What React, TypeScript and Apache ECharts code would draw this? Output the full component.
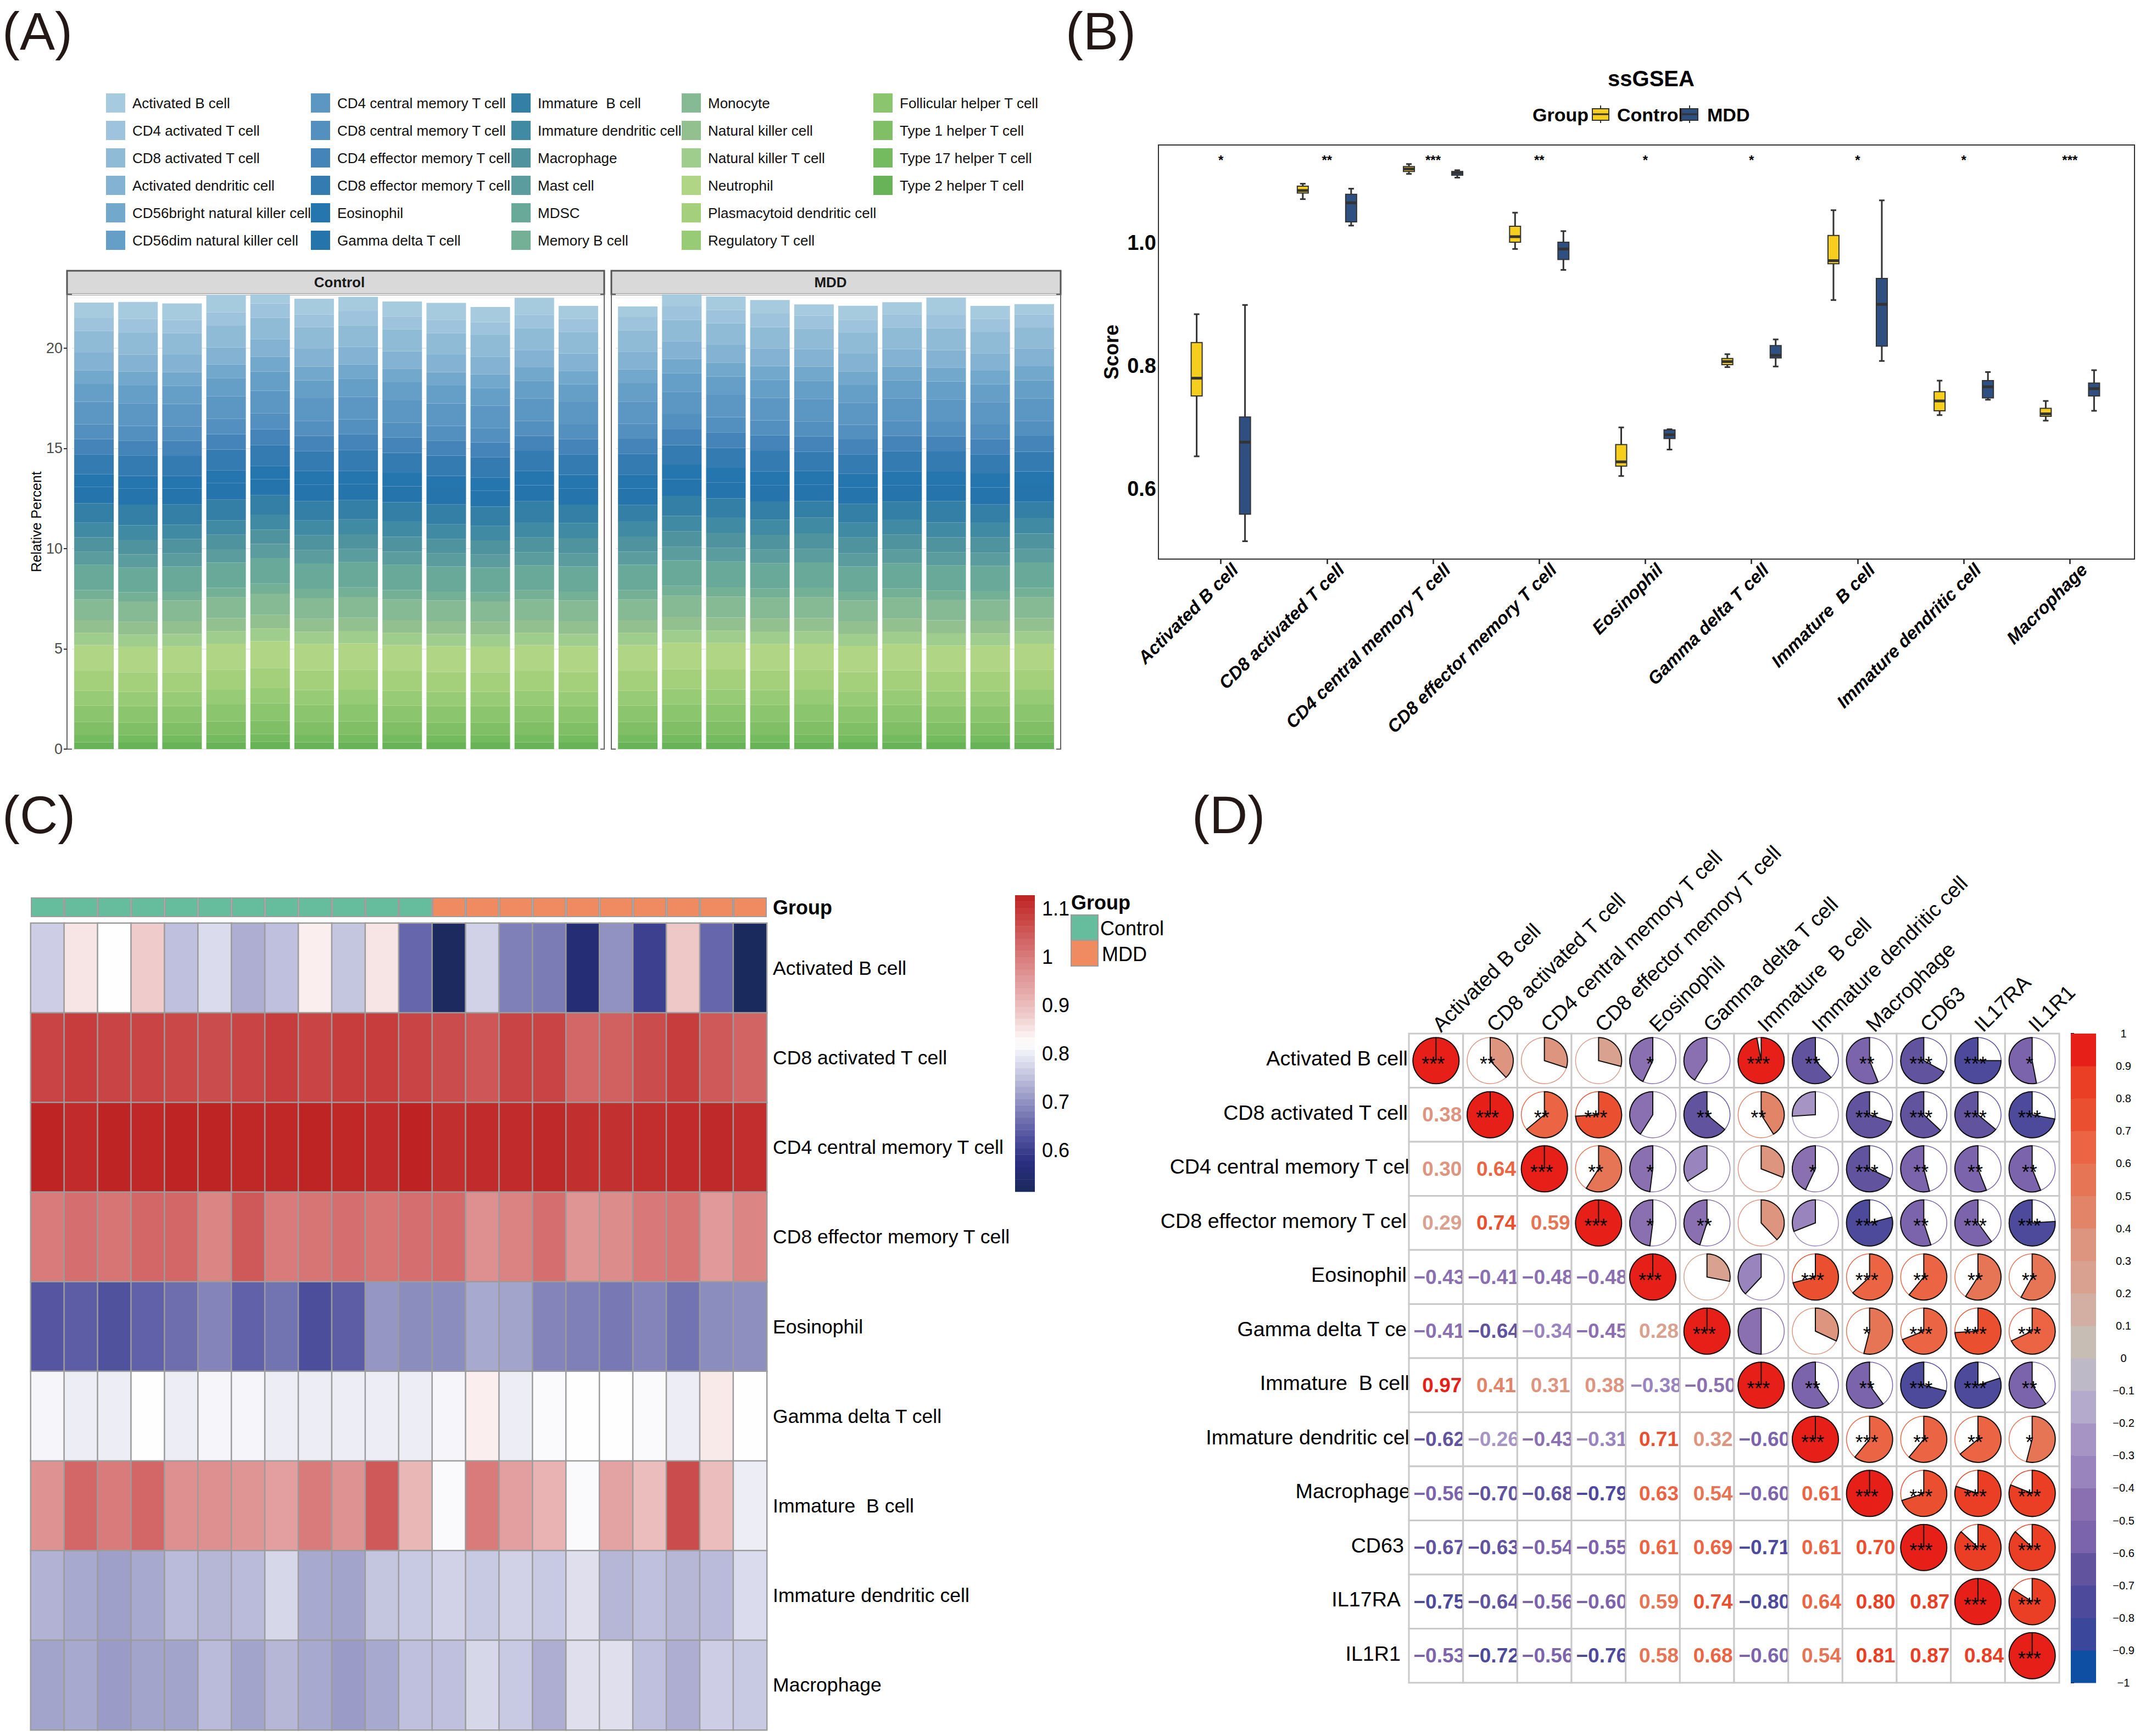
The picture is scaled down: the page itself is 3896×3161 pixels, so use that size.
import React, { useEffect, useRef } from "react";
import * as echarts from "echarts";

const FONT = "Liberation Sans";

// ---------- Panel A ----------
const cellTypes = ["Activated B cell","CD4 activated T cell","CD8 activated T cell","Activated dendritic cell","CD56bright natural killer cell","CD56dim natural killer cell","CD4 central memory T cell","CD8 central memory T cell","CD4 effector memory T cell","CD8 effector memory T cell","Eosinophil","Gamma delta T cell","Immature  B cell","Immature dendritic cell","Macrophage","Mast cell","MDSC","Memory B cell","Monocyte","Natural killer cell","Natural killer T cell","Neutrophil","Plasmacytoid dendritic cell","Regulatory T cell","Follicular helper T cell","Type 1 helper T cell","Type 17 helper T cell","Type 2 helper T cell"];
const cellColors = ["#A6CBDF","#9DC4DC","#8FBBD7","#84B2D2","#73A8CD","#659FC8","#5C97C3","#5490BF","#4484B8","#347BB2","#2575AE","#2574AC","#337FA6","#418AA3","#4F939F","#5B9C9F","#68A99A","#74B096","#85BA94","#92C18F","#9FCD8D","#B0D685","#A4D07C","#97CB75","#8BC56E","#80BF65","#74BA5E","#68B357"];
const samples = ["C1","C2","C3","C4","C5","C6","C7","C8","C9","C10","C11","C12","M1","M2","M3","M4","M5","M6","M7","M8","M9","M10"];
const activatedB = [.765,.85,.82,.88,.75,.78,.73,.75,.84,.755,.85,.65,.52,.77,.68,.675,.555,.70,.60,.885,.65,.515];
const cd8Activated = [1.08,1.09,1.08,1.08,1.075,1.07,1.08,1.09,1.08,1.09,1.09,1.08,1.07,1.055,1.08,1.08,1.03,1.04,1.07,1.09,1.05,1.035];
const cd4Central = [1.125,1.115,1.125,1.12,1.125,1.125,1.12,1.12,1.125,1.12,1.115,1.128,1.11,1.115,1.115,1.118,1.11,1.108,1.112,1.115,1.118,1.112];
const cd8Effector = [1.0,1.02,1.01,1.03,1.03,.985,1.05,1.0,1.01,1.02,1.01,1.02,1.025,.97,.99,1.02,.96,.975,1.005,1.01,.955,.985];
const eosinophil = [.63,.64,.625,.645,.66,.685,.645,.665,.62,.64,.705,.695,.695,.725,.72,.685,.68,.672,.685,.665,.695,.697];
const gammaDelta = [.81,.80,.80,.82,.80,.81,.81,.80,.80,.80,.80,.80,.81,.84,.80,.815,.82,.82,.815,.80,.845,.82];
const immatureB = [.965,1.03,1.0,1.03,.97,.97,.96,.945,1.0,.965,1.05,.91,.815,1.0,.945,.915,.815,.94,.90,1.07,.90,.80];
const immatureDC = [.735,.725,.715,.725,.745,.74,.745,.775,.725,.72,.755,.76,.77,.76,.77,.76,.785,.74,.75,.74,.745,.78];
const macrophage = [.72,.725,.71,.72,.72,.745,.72,.74,.725,.71,.725,.75,.75,.775,.76,.73,.785,.785,.75,.73,.765,.76];
const cd4Activated = [.65,.69,.66,.66,.71,.64,.69,.64,.67,.64,.66,.64,.66,.68,.66,.67,.65,.65,.66,.65,.66,.67];
const activatedDC = [.88,.85,.87,.86,.87,.90,.88,.87,.86,.87,.87,.87,.89,.89,.88,.87,.87,.88,.88,.87,.87,.88];
const cd56Bright = [.68,.69,.68,.67,.74,.68,.70,.68,.67,.68,.67,.67,.69,.71,.70,.69,.70,.68,.69,.69,.68,.70];
const cd56Dim = [.89,.90,.90,.92,.96,.89,.91,.90,.89,.88,.89,.88,.91,.92,.91,.90,.92,.88,.90,.90,.89,.91];
const cd8Central = [.74,.73,.72,.76,.79,.75,.75,.74,.73,.72,.74,.73,.75,.77,.76,.75,.75,.72,.75,.73,.73,.76];
const cd4Effector = [.76,.74,.74,.77,.80,.77,.78,.76,.75,.74,.75,.75,.76,.78,.78,.77,.77,.75,.77,.75,.75,.78];
const mast = [.66,.65,.66,.67,.70,.66,.67,.67,.65,.65,.66,.66,.66,.68,.68,.67,.67,.66,.67,.66,.66,.68];
const mdsc = [1.25,1.24,1.25,1.26,1.28,1.26,1.26,1.25,1.25,1.24,1.25,1.25,1.25,1.27,1.27,1.26,1.26,1.25,1.26,1.26,1.25,1.27];
const memoryB = [.46,.45,.45,.47,.50,.47,.47,.46,.45,.44,.45,.45,.47,.49,.48,.47,.48,.45,.47,.46,.45,.47];
const monocyte = [1.03,1.02,1.03,1.04,1.06,1.03,1.04,1.03,1.03,1.02,1.03,1.03,1.03,1.05,1.04,1.04,1.04,1.03,1.04,1.03,1.03,1.04];
const nkCell = [.64,.63,.64,.65,.67,.65,.66,.64,.64,.63,.64,.64,.64,.66,.65,.65,.65,.63,.65,.64,.64,.65];
const nktCell = [.61,.60,.61,.62,.64,.61,.62,.61,.60,.60,.61,.60,.61,.63,.62,.62,.62,.60,.62,.61,.60,.62];
const neutrophil = [1.30,1.29,1.30,1.31,1.33,1.31,1.32,1.30,1.30,1.29,1.30,1.30,1.30,1.32,1.32,1.31,1.31,1.30,1.31,1.30,1.30,1.31];
const plasmacytoid = [.98,.97,.97,.99,1.01,.99,.99,.98,.98,.97,.98,.98,.98,1.0,1.0,.99,.99,.98,.99,.98,.98,.99];
const regulatory = [.73,.72,.72,.74,.76,.74,.74,.73,.72,.72,.73,.72,.73,.75,.74,.74,.74,.73,.74,.73,.73,.74];
const follicular = [.83,.82,.82,.84,.86,.84,.84,.83,.82,.82,.83,.82,.83,.85,.85,.84,.84,.82,.84,.83,.83,.84];
const type1 = [.64,.63,.63,.65,.67,.65,.65,.64,.63,.63,.64,.63,.64,.66,.65,.65,.65,.63,.65,.64,.64,.65];
const type17 = [.37,.36,.36,.38,.39,.37,.38,.37,.36,.36,.37,.36,.37,.38,.38,.37,.38,.36,.37,.36,.36,.38];
const type2 = [.34,.33,.33,.35,.36,.34,.35,.34,.33,.33,.34,.33,.34,.35,.35,.34,.35,.33,.34,.33,.33,.35];
const abundance = [activatedB,cd4Activated,cd8Activated,activatedDC,cd56Bright,cd56Dim,cd4Central,cd8Central,cd4Effector,cd8Effector,eosinophil,gammaDelta,immatureB,immatureDC,macrophage,mast,mdsc,memoryB,monocyte,nkCell,nktCell,neutrophil,plasmacytoid,regulatory,follicular,type1,type17,type2];
const legendColumns = [
  { left: 193, items: cellTypes.slice(0, 6) },
  { left: 566, items: cellTypes.slice(6, 12) },
  { left: 931, items: cellTypes.slice(12, 18) },
  { left: 1241, items: cellTypes.slice(18, 24) },
  { left: 1590, items: cellTypes.slice(24, 28) },
];

// ---------- Panel B ----------
const boxCategories = ["Activated B cell","CD8 activated T cell","CD4 central memory T cell","CD8 effector memory T cell","Eosinophil","Gamma delta T cell","Immature  B cell","Immature dendritic cell","Macrophage"];
const boxControl = [[.653,.751,.780,.838,.884],[1.071,1.081,1.085,1.092,1.096],[1.112,1.116,1.120,1.124,1.128],[.990,1.001,1.010,1.027,1.049],[.621,.637,.644,.672,.700],[.798,.802,.807,.812,.819],[.907,.966,.971,1.012,1.053],[.720,.727,.743,.758,.776],[.711,.718,.722,.731,.743]];
const boxMDD = [[.515,.559,.676,.717,.899],[1.028,1.034,1.065,1.079,1.088],[1.106,1.110,1.114,1.116,1.118],[.956,.973,.990,1.001,1.019],[.664,.682,.688,.696,.697],[.799,.813,.817,.833,.843],[.808,.832,.900,.942,1.069],[.745,.748,.766,.776,.790],[.727,.751,.763,.772,.793]];
const boxSignif = ["*","**","***","**","*","*","*","*","***"];

// ---------- Panel C ----------
const heatRows = ["Activated B cell","CD8 activated T cell","CD4 central memory T cell","CD8 effector memory T cell","Eosinophil","Gamma delta T cell","Immature  B cell","Immature dendritic cell","Macrophage"];
const heatValues = [activatedB,cd8Activated,cd4Central,cd8Effector,eosinophil,gammaDelta,immatureB,immatureDC,macrophage];
const heatStops = ["#1B2A5C","#2A2E80","#5A5AA5","#8F90C0","#C8C9E2","#FFFFFF","#EFC9C9","#E3A0A0","#D87878","#CC4E4E","#BE2222"];
const heatTicks = ["0.6","0.7","0.8","0.9","1","1.1"];

// ---------- Panel D ----------
const corrNames = ["Activated B cell","CD8 activated T cell","CD4 central memory T cell","CD8 effector memory T cell","Eosinophil","Gamma delta T cell","Immature  B cell","Immature dendritic cell","Macrophage","CD63","IL17RA","IL1R1"];
const corrRowLabels = ["Activated B cell","CD8 activated T cell","CD4 central memory T cel","CD8 effector memory T cel","Eosinophil","Gamma delta T ce","Immature  B cell","Immature dendritic cel","Macrophage","CD63","IL17RA","IL1R1"];
const corrRowPad = [5,5,2,7,7,7,2,2,0,12,18,18];
const corrLower = [
  [],
  [.38],
  [.30,.64],
  [.29,.74,.59],
  [-.43,-.41,-.48,-.48],
  [-.41,-.64,-.34,-.45,.28],
  [.97,.41,.31,.38,-.38,-.50],
  [-.62,-.26,-.43,-.31,.71,.32,-.60],
  [-.56,-.70,-.68,-.79,.63,.54,-.60,.61],
  [-.67,-.63,-.54,-.55,.61,.69,-.71,.61,.70],
  [-.75,-.64,-.56,-.60,.59,.74,-.80,.64,.80,.87],
  [-.53,-.72,-.56,-.76,.58,.68,-.60,.54,.81,.87,.84],
];
const corrStars = [
  ["***","**","","","*","","***","**","**","***","***","*"],
  ["","***","**","***","","**","**","","***","***","***","***"],
  ["","","***","**","*","","","*","***","**","**","**"],
  ["","","","***","*","**","","","***","**","***","***"],
  ["","","","","***","","","***","***","**","**","**"],
  ["","","","","","***","","","*","***","***","***"],
  ["","","","","","","***","**","**","***","***","**"],
  ["","","","","","","","***","***","**","**","*"],
  ["","","","","","","","","***","***","***","***"],
  ["","","","","","","","","","***","***","***"],
  ["","","","","","","","","","","***","***"],
  ["","","","","","","","","","","","***"],
];
const corrColors = ["#0F4FA3","#3A479B","#4D4A9C","#62539F","#7C64AC","#8A70B0","#9A84BE","#A594C4","#B4AACB","#BDB9C6","#C7BDB5","#D3AEA2","#D9A290","#DE957F","#E28468","#E67555","#EB6544","#EA5030","#EA3F24","#E71F19"];

const corrColor = (r: number) => corrColors[Math.max(0, Math.min(19, Math.floor((r + 1) / 0.1 + 1e-6)))];
const signed = (r: number) => (r < 0 ? "\u2212" : "") + Math.abs(r).toFixed(2);

const gText = (text: string, x: number, y: number, o: any = {}) => ({
  type: "text",
  x,
  y,
  rotation: o.rotation || 0,
  silent: true,
  style: {
    text,
    fill: o.fill || "#000",
    fontFamily: FONT,
    fontSize: o.size || 36,
    fontWeight: o.weight || "normal",
    align: o.align || "left",
    textAlign: o.align || "left",
    verticalAlign: "middle",
    textVerticalAlign: "middle",
  },
});
const gRect = (x: number, y: number, w: number, h: number, fill: string, stroke?: string, lw = 2) => ({
  type: "rect",
  silent: true,
  shape: { x, y, width: w, height: h },
  style: { fill, stroke: stroke || "none", lineWidth: lw },
});

function buildOption() {
  const series: any[] = [];
  // A: stacked bars, first legend entry on top
  [[0, 12, 0], [1, 10, 12]].forEach(([axis, n, from]) => {
    for (let i = cellTypes.length - 1; i >= 0; i--) {
      series.push({
        type: "bar",
        name: cellTypes[i],
        stack: "p" + axis,
        xAxisIndex: axis,
        yAxisIndex: axis,
        barWidth: 72,
        itemStyle: { color: cellColors[i] },
        data: abundance[i].slice(from, from + n),
      });
    }
  });

  // B: box plots
  const boxSeries = (name: string, rows: number[][], fill: string, off: number) => ({
    type: "custom",
    name,
    xAxisIndex: 2,
    yAxisIndex: 2,
    clip: false,
    encode: { x: 0, y: [1, 2, 3, 4, 5] },
    data: rows.map((r, i) => [i, ...r]),
    renderItem: (p: any, api: any) => {
      const idx = p.dataIndex;
      const pt = (k: number) => api.coord([idx, api.value(k)]);
      const x = pt(1)[0] + off;
      const [yLo, yQ1, yMed, yQ3, yHi] = [pt(1)[1], pt(2)[1], pt(3)[1], pt(4)[1], pt(5)[1]];
      const ln = { stroke: "#333", lineWidth: 3 };
      return {
        type: "group",
        children: [
          { type: "line", shape: { x1: x, y1: yHi, x2: x, y2: yLo }, style: ln },
          { type: "line", shape: { x1: x - 5, y1: yHi, x2: x + 5, y2: yHi }, style: ln },
          { type: "line", shape: { x1: x - 5, y1: yLo, x2: x + 5, y2: yLo }, style: ln },
          { type: "rect", shape: { x: x - 10, y: yQ3, width: 20, height: yQ1 - yQ3 }, style: { fill, stroke: "#333", lineWidth: 2 } },
          { type: "line", shape: { x1: x - 10, y1: yMed, x2: x + 10, y2: yMed }, style: { stroke: "#333", lineWidth: 5 } },
        ],
      };
    },
  });
  series.push(boxSeries("Control", boxControl, "#F5CE1E", -44));
  series.push(boxSeries("MDD", boxMDD, "#2F4F80", 44));
  series.push({
    type: "custom",
    name: "Significance",
    xAxisIndex: 2,
    yAxisIndex: 2,
    encode: { x: 0, y: 1 },
    data: boxSignif.map((_, i) => [i, 1.139]),
    renderItem: (p: any, api: any) => {
      const c = api.coord([p.dataIndex, api.value(1)]);
      return {
        type: "text",
        style: { text: boxSignif[p.dataIndex], x: c[0], y: c[1] + 5, fill: "#000", fontFamily: FONT, fontSize: 24, fontWeight: "bold", align: "center", verticalAlign: "middle", textAlign: "center", textVerticalAlign: "middle" },
      };
    },
  });
  series.push({
    type: "custom",
    name: "Category labels",
    xAxisIndex: 2,
    yAxisIndex: 2,
    clip: false,
    encode: { x: 0, y: 1 },
    data: boxCategories.map((_, i) => [i, 0.486]),
    renderItem: (p: any, api: any) => {
      const c = api.coord([p.dataIndex, api.value(1)]);
      return {
        type: "text",
        x: c[0] + 26,
        y: c[1] + 14,
        rotation: Math.PI / 4,
        style: { text: boxCategories[p.dataIndex], x: 0, y: 0, fill: "#000", fontFamily: FONT, fontSize: 32.5, fontWeight: "bold", fontStyle: "italic", align: "right", verticalAlign: "middle", textAlign: "right", textVerticalAlign: "middle" },
      };
    },
  });

  // C: heat map
  const heatIndex = series.length;
  const heatData: number[][] = [];
  heatValues.forEach((row, r) => row.forEach((v, c) => heatData.push([c, r, v])));
  series.push({
    type: "heatmap",
    name: "Score",
    xAxisIndex: 3,
    yAxisIndex: 3,
    data: heatData,
    itemStyle: { borderColor: "#9c9c9c", borderWidth: 2.5 },
    progressive: 0,
  });
  series.push({
    type: "bar",
    name: "Group",
    xAxisIndex: 4,
    yAxisIndex: 4,
    barWidth: "100%",
    data: samples.map((_, i) => ({
      value: 1,
      itemStyle: { color: i < 12 ? "#66BD9E" : "#F08A60", borderColor: "#9c9c9c", borderWidth: 2 },
    })),
  });
  const bandsC: number[][] = [];
  const nBands = 48;
  for (let i = 0; i < nBands; i++) bandsC.push([0.514 + (i * 0.614) / nBands, 0.514 + ((i + 1) * 0.614) / nBands]);
  const bandSeries = (axis: number, bands: number[][], colorOf: (i: number) => string) => ({
    type: "custom",
    name: "scale" + axis,
    xAxisIndex: axis,
    yAxisIndex: axis,
    clip: false,
    encode: { y: [0, 1] },
    data: bands,
    renderItem: (p: any, api: any) => {
      const a = api.coord([0, api.value(0)]);
      const b = api.coord([1, api.value(1)]);
      return {
        type: "rect",
        shape: { x: a[0], y: b[1], width: b[0] - a[0], height: a[1] - b[1] + 0.5 },
        style: { fill: colorOf(p.dataIndex) },
      };
    },
  });
  series.push(bandSeries(5, bandsC, (i) => echarts.color.lerp((i + 0.5) / nBands, heatStops) as string));

  // D: correlogram
  const corrCells: number[][] = [];
  corrNames.forEach((_, r) => corrNames.forEach((__, c) => {
    const v = r === c ? 1 : r > c ? corrLower[r][c] : corrLower[c][r];
    corrCells.push([c, r, v]);
  }));
  series.push({
    type: "custom",
    name: "Correlation",
    xAxisIndex: 6,
    yAxisIndex: 6,
    clip: false,
    encode: { x: 0, y: 1 },
    data: corrCells,
    renderItem: (p: any, api: any) => {
      const col = api.value(0), row = api.value(1), v = api.value(2);
      const [cx, cy] = api.coord([col, row]);
      const [w, h] = api.size([1, 1]);
      const color = corrColor(v);
      const kids: any[] = [
        { type: "rect", shape: { x: cx - w / 2, y: cy - h / 2, width: w, height: h }, style: { fill: "#fff", stroke: "#c9c9c9", lineWidth: 3 } },
      ];
      if (row > col) {
        kids.push({
          type: "text",
          style: { text: signed(v), x: cx + (v < 0 ? 6 : 11), y: cy, fill: color, fontFamily: FONT, fontSize: 37, fontWeight: "bold", align: "center", verticalAlign: "middle", textAlign: "center", textVerticalAlign: "middle" },
        });
      } else {
        const R = 42;
        const start = -Math.PI / 2;
        kids.push({ type: "circle", shape: { cx, cy, r: R }, style: { fill: "#fff", stroke: color, lineWidth: 1.5 } });
        kids.push({
          type: "sector",
          shape: { cx, cy, r: R, r0: 0, startAngle: start, endAngle: start + (v >= 0 ? 1 : -1) * 2 * Math.PI * Math.abs(v) * (v === 1 ? 0.9999 : 1), clockwise: v >= 0 },
          style: { fill: color, stroke: "#111", lineWidth: 2 },
        });
        const stars = corrStars[row][col];
        if (stars) {
          kids.push({
            type: "text",
            style: { text: stars, x: cx - 5, y: cy + 6, fill: "#000", fontFamily: FONT, fontSize: 36, align: "center", verticalAlign: "middle", textAlign: "center", textVerticalAlign: "middle" },
          });
        }
      }
      return { type: "group", children: kids };
    },
  });
  series.push(bandSeries(7, corrColors.map((_, i) => [-1 + i * 0.1, -0.9 + i * 0.1]), (i) => corrColors[i]));

  const hiddenCat = (gridIndex: number, data: string[]) => ({ type: "category", gridIndex, data, show: false });
  const hiddenVal = (gridIndex: number, min: number, max: number) => ({ type: "value", gridIndex, min, max, show: false });
  const aSplit = { show: true, lineStyle: { color: "#ebebeb", width: 2 } };

  return {
    animation: false,
    backgroundColor: "#fff",
    textStyle: { fontFamily: FONT },
    grid: [
      { left: 131, top: 536, width: 962, height: 828 },
      { left: 1121, top: 536, width: 802, height: 828 },
      { left: 2126, top: 264, width: 1739, height: 754 },
      { left: 56, top: 1681, width: 1340, height: 1469 },
      { left: 56, top: 1634, width: 1340, height: 36 },
      { left: 1848, top: 1630, width: 36, height: 552 },
      { left: 2565, top: 1882, width: 1184, height: 1182 },
      { left: 3770, top: 1882, width: 46, height: 1182 },
    ],
    xAxis: [
      hiddenCat(0, samples.slice(0, 12)),
      hiddenCat(1, samples.slice(12)),
      {
        type: "category",
        gridIndex: 2,
        data: boxCategories,
        axisLine: { show: false },
        axisTick: { show: true, alignWithLabel: true, length: 9, lineStyle: { color: "#222", width: 2.5 } },
        axisLabel: { show: false },
      },
      hiddenCat(3, samples),
      hiddenCat(4, samples),
      hiddenVal(5, 0, 1),
      {
        type: "category",
        gridIndex: 6,
        position: "top",
        data: corrNames,
        axisLine: { show: false },
        axisTick: { show: false },
        axisLabel: { rotate: -45, interval: 0, margin: 10, fontSize: 38, color: "#000", fontFamily: FONT },
      },
      hiddenVal(7, 0, 1),
    ],
    yAxis: [
      {
        type: "value",
        gridIndex: 0,
        min: 0,
        max: 22.68,
        interval: 5,
        offset: 9,
        name: "Relative Percent",
        nameLocation: "middle",
        nameGap: 44,
        nameTextStyle: { fontSize: 25, color: "#000", fontFamily: FONT },
        axisLine: { show: false },
        axisTick: { show: true, length: 6, lineStyle: { color: "#333", width: 2 } },
        axisLabel: { fontSize: 27, color: "#4d4d4d", margin: 8, showMaxLabel: false, fontFamily: FONT },
        splitLine: aSplit,
        minorTick: { show: false, splitNumber: 2 },
        minorSplitLine: { show: true, lineStyle: { color: "#f2f2f2", width: 1 } },
      },
      {
        type: "value",
        gridIndex: 1,
        min: 0,
        max: 22.68,
        interval: 5,
        axisLine: { show: false },
        axisTick: { show: false },
        axisLabel: { show: false },
        splitLine: aSplit,
        minorTick: { show: false, splitNumber: 2 },
        minorSplitLine: { show: true, lineStyle: { color: "#f2f2f2", width: 1 } },
      },
      {
        type: "value",
        gridIndex: 2,
        min: 0.486,
        max: 1.159,
        name: "Score",
        nameLocation: "middle",
        nameGap: 85,
        nameTextStyle: { fontSize: 36, fontWeight: "bold", color: "#000", fontFamily: FONT },
        axisLine: { show: false },
        axisTick: { show: false },
        splitLine: { show: false },
        axisLabel: {
          customValues: [0.6, 0.8, 1.0],
          formatter: (v: number) => v.toFixed(1),
          fontSize: 38,
          fontWeight: "bold",
          color: "#000",
          margin: 21,
          fontFamily: FONT,
        },
      },
      {
        type: "category",
        gridIndex: 3,
        position: "right",
        inverse: true,
        data: heatRows,
        axisLine: { show: false },
        axisTick: { show: false },
        axisLabel: { fontSize: 35.6, color: "#000", margin: 11, interval: 0, fontFamily: FONT },
      },
      {
        type: "value",
        gridIndex: 4,
        position: "right",
        min: 0,
        max: 1,
        interval: 1,
        axisLine: { show: false },
        axisTick: { show: false },
        splitLine: { show: false },
        axisLabel: { show: false },
      },
      {
        type: "value",
        gridIndex: 5,
        position: "right",
        min: 0.5,
        max: 1.128,
        interval: 0.1,
        axisLine: { show: false },
        axisTick: { show: false },
        splitLine: { show: false },
        axisLabel: {
          showMinLabel: false,
          showMaxLabel: false,
          margin: 13,
          fontSize: 36,
          color: "#000",
          fontFamily: FONT,
          formatter: (v: number) => {
            const s = String(Math.round(v * 10) / 10);
            return heatTicks.includes(s) ? s : "";
          },
        },
      },
      {
        type: "category",
        gridIndex: 6,
        inverse: true,
        data: corrRowLabels.map((n, i) => `{p${i}|${n}}`),
        axisLine: { show: false },
        axisTick: { show: false },
        axisLabel: {
          margin: -3,
          interval: 0,
          fontSize: 37.7,
          color: "#000",
          fontFamily: FONT,
          rich: Object.fromEntries(corrRowPad.map((pad, i) => ["p" + i, { fontSize: 37.7, color: "#000", fontFamily: FONT, padding: [0, pad, 8, 0] }])),
        },
      },
      {
        type: "value",
        gridIndex: 7,
        position: "right",
        min: -1,
        max: 1,
        interval: 0.1,
        axisLine: { show: false },
        splitLine: { show: false },
        axisTick: { show: true, length: 6, lineStyle: { color: "#000", width: 2 } },
        axisLabel: {
          align: "center",
          margin: 50,
          fontSize: 20,
          color: "#000",
          fontFamily: FONT,
          formatter: (v: number) => {
            if (Math.abs(v) < 1e-6) return "0";
            if (Math.abs(Math.abs(v) - 1) < 1e-6) return v < 0 ? "\u22121" : "1";
            return (v < 0 ? "\u2212" : "") + Math.abs(v).toFixed(1);
          },
        },
      },
    ],
    legend: legendColumns.map((col) => ({
      orient: "vertical",
      left: col.left,
      top: 170,
      padding: 0,
      itemWidth: 35,
      itemHeight: 35,
      itemGap: 15,
      icon: "rect",
      selectedMode: false,
      data: col.items,
      textStyle: { fontSize: 26, color: "#111", fontFamily: FONT, padding: [0, 0, 0, 8] },
    })),
    visualMap: [
      {
        type: "continuous",
        show: false,
        seriesIndex: heatIndex,
        dimension: 2,
        min: 0.514,
        max: 1.128,
        inRange: { color: heatStops },
      },
    ],
    graphic: {
      elements: [
        gText("(A)", 4, 56, { size: 96, fill: "#231815" }),
        gText("(B)", 1940, 56, { size: 96, fill: "#231815" }),
        gText("(C)", 4, 1483, { size: 96, fill: "#231815" }),
        gText("(D)", 2170, 1483, { size: 96, fill: "#231815" }),
        // A: facet strips and frames
        gRect(122, 493, 978, 43, "#D9D9D9", "#555", 3),
        gRect(1113, 493, 818, 43, "#D9D9D9", "#555", 3),
        gText("Control", 618, 514, { size: 26, weight: "bold", align: "center", fill: "#1a1a1a" }),
        gText("MDD", 1512, 514, { size: 26, weight: "bold", align: "center", fill: "#1a1a1a" }),
        gRect(122, 536, 978, 828, "none", "#666", 2),
        gRect(1113, 536, 818, 828, "none", "#666", 2),
        // B: title, legend, frame
        gText("ssGSEA", 3006, 143, { size: 40, weight: "bold", align: "center" }),
        gText("Group", 2790, 209, { size: 34, weight: "bold" }),
        { type: "line", silent: true, shape: { x1: 2914, y1: 192, x2: 2914, y2: 224 }, style: { stroke: "#333", lineWidth: 2 } },
        gRect(2899, 198, 30, 21, "#F5CE1E", "#333", 2),
        { type: "line", silent: true, shape: { x1: 2899, y1: 208, x2: 2929, y2: 208 }, style: { stroke: "#333", lineWidth: 3 } },
        gText("Control", 2944, 209, { size: 34, weight: "bold" }),
        { type: "line", silent: true, shape: { x1: 3076, y1: 192, x2: 3076, y2: 224 }, style: { stroke: "#333", lineWidth: 2 } },
        gRect(3061, 198, 30, 21, "#2F4F80", "#333", 2),
        { type: "line", silent: true, shape: { x1: 3061, y1: 208, x2: 3091, y2: 208 }, style: { stroke: "#333", lineWidth: 3 } },
        gText("MDD", 3108, 209, { size: 34, weight: "bold" }),
        gRect(2109, 264, 1777, 754, "none", "#333", 2),
        // C: annotation label and legend
        gText("Group", 1407, 1652, { size: 36, weight: "bold" }),
        gText("Group", 1950, 1643, { size: 36, weight: "bold" }),
        gRect(1950, 1666, 49, 46, "#66BD9E", "#9c9c9c", 2),
        gRect(1950, 1712, 49, 47, "#F08A60", "#9c9c9c", 2),
        gText("Control", 2003, 1690, { size: 36 }),
        gText("MDD", 2006, 1737, { size: 36 }),
      ],
    },
    series,
  };
}

export default function App() {
  const ref = useRef<HTMLDivElement>(null);
  useEffect(() => {
    const chart = echarts.init(ref.current!, undefined, { renderer: "svg", width: 3896, height: 3161 });
    chart.setOption(buildOption() as any);
    return () => chart.dispose();
  }, []);
  return <div ref={ref} style={{ position: "absolute", left: 0, top: 0, width: 3896, height: 3161, background: "#fff" }} />;
}
